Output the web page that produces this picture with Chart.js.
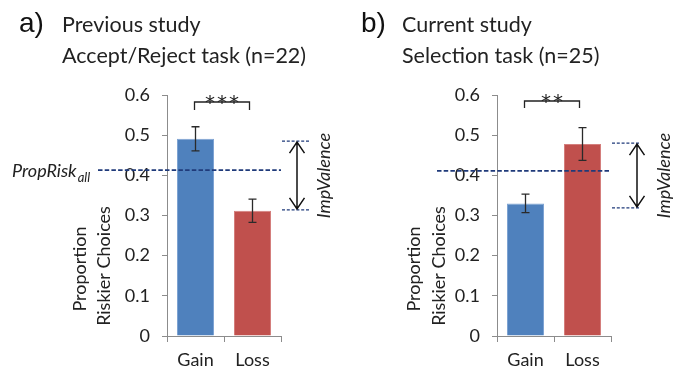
<!DOCTYPE html>
<html>
<head>
<meta charset="utf-8">
<script src="https://cdn.jsdelivr.net/npm/chart.js@4.4.1/dist/chart.umd.min.js"></script>
<style>
  html, body { margin: 0; padding: 0; background: #fff; }
  #wrap { position: relative; width: 675px; height: 371px; overflow: hidden; }
  canvas { position: absolute; top: 0; }
</style>
</head>
<body>
<div id="wrap">
  <canvas id="cA" width="338" height="371" style="left:0px"></canvas>
  <canvas id="cB" width="337" height="371" style="left:338px"></canvas>
</div>
<script>
// ---------- data ----------
const categories = ['Gain', 'Loss'];
const yTickLabels = ['0', '0.1', '0.2', '0.3', '0.4', '0.5', '0.6'];

const prevMeans = [0.491, 0.312];
const prevErrors = [0.030, 0.029];
const prevPropRisk = 0.413;
const prevImpValence = [0.485, 0.314];

const currMeans = [0.330, 0.478];
const currErrors = [0.023, 0.041];
const currPropRisk = 0.411;
const currImpValence = [0.480, 0.319];

const barColors = ['#4F81BD', '#C0504D'];
const barBorders = ['#7FA4D3', '#D47F7D'];

const TEXT = '#222222';
const AXIS = '#8c8c8c';
const NAVY = '#1F3A7A';
const BODY_FONT = 'Lato, "Open Sans", sans-serif';

// ---------- annotation plugin ----------
const annotPlugin = {
  id: 'annot',
  afterDatasetsDraw(chart, args, o) {
    const ctx = chart.ctx;
    const ys = chart.scales.y;
    const meta = chart.getDatasetMeta(0);
    const X = v => v - o.offsetX;
    ctx.save();

    // error bars
    ctx.strokeStyle = '#2a2a2a';
    ctx.lineWidth = 1.3;
    o.means.forEach((m, i) => {
      const bx = meta.data[i].x;
      const yt = ys.getPixelForValue(m + o.errors[i]);
      const yb = ys.getPixelForValue(m - o.errors[i]);
      ctx.beginPath();
      ctx.moveTo(bx, yt); ctx.lineTo(bx, yb);
      ctx.moveTo(bx - 4, yt); ctx.lineTo(bx + 4, yt);
      ctx.moveTo(bx - 4, yb); ctx.lineTo(bx + 4, yb);
      ctx.stroke();
    });

    // PropRisk dashed line
    const py = ys.getPixelForValue(o.propRisk);
    ctx.strokeStyle = NAVY;
    ctx.lineWidth = 1.6;
    ctx.setLineDash([4.5, 2.2]);
    ctx.beginPath();
    ctx.moveTo(X(o.propX1), py); ctx.lineTo(chart.chartArea.right, py);
    ctx.stroke();

    // ImpValence short dashed lines
    ctx.lineWidth = 1.2;
    ctx.setLineDash([3, 1.8]);
    const iy = o.impValence.map(v => ys.getPixelForValue(v));
    iy.forEach(y => {
      ctx.beginPath();
      ctx.moveTo(chart.chartArea.right + 1, y); ctx.lineTo(chart.chartArea.right + 29, y);
      ctx.stroke();
    });
    ctx.setLineDash([]);

    // double arrow
    const ax = X(o.arrowX);
    ctx.strokeStyle = '#111';
    ctx.lineWidth = 1.5;
    ctx.beginPath();
    ctx.moveTo(ax, iy[0] + 1); ctx.lineTo(ax, iy[1] - 1);
    ctx.moveTo(ax - 7.5, iy[0] + 12); ctx.lineTo(ax, iy[0] + 1); ctx.lineTo(ax + 7.5, iy[0] + 12);
    ctx.moveTo(ax - 7.5, iy[1] - 12); ctx.lineTo(ax, iy[1] - 1); ctx.lineTo(ax + 7.5, iy[1] - 12);
    ctx.stroke();

    // significance bracket
    const b0 = meta.data[0].x - 1, b1 = meta.data[1].x - 3;
    ctx.strokeStyle = '#222';
    ctx.lineWidth = 1.3;
    ctx.beginPath();
    ctx.moveTo(b0, o.bracketBottom); ctx.lineTo(b0, o.bracketTop);
    ctx.lineTo(b1, o.bracketTop); ctx.lineTo(b1, o.bracketBottom);
    ctx.stroke();
    ctx.fillStyle = TEXT;
    ctx.font = '20px "DejaVu Sans", sans-serif';
    ctx.textAlign = 'center';
    ctx.textBaseline = 'alphabetic';
    const pitch = 12;
    const n = o.stars.length;
    const cx = (b0 + b1) / 2;
    for (let k = 0; k < n; k++) {
      ctx.fillText('*', cx + (k - (n - 1) / 2) * pitch, o.bracketTop + 7);
    }

    // ImpValence rotated label
    ctx.save();
    ctx.translate(X(o.impTextX), (iy[0] + iy[1]) / 2);
    ctx.rotate(-Math.PI / 2);
    ctx.font = 'italic 18px ' + BODY_FONT;
    ctx.textAlign = 'center';
    ctx.textBaseline = 'alphabetic';
    ctx.fillText('ImpValence', 0, 0);
    ctx.restore();

    // y axis title (two lines, rotated)
    ctx.save();
    ctx.font = '18px ' + BODY_FONT;
    ctx.textAlign = 'center';
    ctx.textBaseline = 'alphabetic';
    ctx.translate(X(o.yTitleX1), 269);
    ctx.rotate(-Math.PI / 2);
    ctx.fillText('Proportion', 0, 0);
    ctx.restore();
    ctx.save();
    ctx.font = '18px ' + BODY_FONT;
    ctx.textAlign = 'center';
    ctx.textBaseline = 'alphabetic';
    ctx.translate(X(o.yTitleX2), 266);
    ctx.rotate(-Math.PI / 2);
    ctx.fillText('Riskier Choices', 0, 0);
    ctx.restore();

    // panel letter and titles
    ctx.textAlign = 'left';
    ctx.textBaseline = 'alphabetic';
    ctx.font = '28px "Liberation Sans", Arial, sans-serif';
    ctx.fillStyle = '#111';
    ctx.fillText(o.letter, X(o.letterX), 32);
    ctx.font = '21.5px ' + BODY_FONT;
    ctx.fillStyle = TEXT;
    ctx.fillText(o.title1, X(o.titleX), 32);
    ctx.fillText(o.title2, X(o.titleX), 63);

    // PropRisk_all label
    if (o.showPropLabel) {
      ctx.font = 'italic 18px ' + BODY_FONT;
      ctx.textAlign = 'left';
      ctx.fillText('PropRisk', 12, py + 7);
      const w = ctx.measureText('PropRisk').width;
      ctx.font = 'italic 13px ' + BODY_FONT;
      ctx.fillText('all', 12 + w + 1, py + 12);
    }
    ctx.restore();
  }
};

function makePanel(id, means, errors, opts, layout) {
  return new Chart(document.getElementById(id), {
    type: 'bar',
    data: {
      labels: categories,
      datasets: [{
        data: means,
        backgroundColor: barColors,
        borderColor: barBorders,
        borderWidth: 1,
        barPercentage: 0.65,
        categoryPercentage: 1.0
      }]
    },
    options: {
      responsive: false,
      animation: false,
      devicePixelRatio: 1,
      layout: { padding: layout },
      plugins: {
        legend: { display: false },
        tooltip: { enabled: false },
        annot: Object.assign({ means: means, errors: errors }, opts)
      },
      scales: {
        x: {
          grid: { offset: true, drawOnChartArea: false, tickLength: 6, color: AXIS },
          border: { color: AXIS, width: 1 },
          ticks: { color: TEXT, font: { family: BODY_FONT, size: 18 }, padding: 7 },
          afterFit: s => { s.height = 35; }
        },
        y: {
          min: 0, max: 0.6,
          ticks: {
            stepSize: 0.1,
            color: TEXT,
            font: { family: BODY_FONT, size: 18 },
            padding: 12,
            callback: (v, i) => yTickLabels[i]
          },
          grid: { drawOnChartArea: false, tickLength: 5, color: AXIS },
          border: { color: AXIS, width: 1 },
          afterFit: s => { s.width = 60; }
        }
      }
    },
    plugins: [annotPlugin]
  });
}

makePanel('cA', prevMeans, prevErrors, {
  offsetX: 0,
  propRisk: prevPropRisk, propX1: 98,
  impValence: prevImpValence,
  arrowX: 297, impTextX: 330,
  bracketTop: 102, bracketBottom: 110, stars: '***',
  yTitleX1: 86, yTitleX2: 110,
  letter: 'a)', letterX: 19, titleX: 62,
  title1: 'Previous study', title2: 'Accept/Reject task (n=22)',
  showPropLabel: true
}, { left: 107, right: 57, top: 95, bottom: 0 });

makePanel('cB', currMeans, currErrors, {
  offsetX: 338,
  propRisk: currPropRisk, propX1: 437,
  impValence: currImpValence,
  arrowX: 637, impTextX: 670,
  bracketTop: 101, bracketBottom: 108, stars: '**',
  yTitleX1: 420, yTitleX2: 445,
  letter: 'b)', letterX: 361, titleX: 402,
  title1: 'Current study', title2: 'Selection task (n=25)',
  showPropLabel: false
}, { left: 99, right: 64, top: 95, bottom: 0 });
</script>
</body>
</html>
